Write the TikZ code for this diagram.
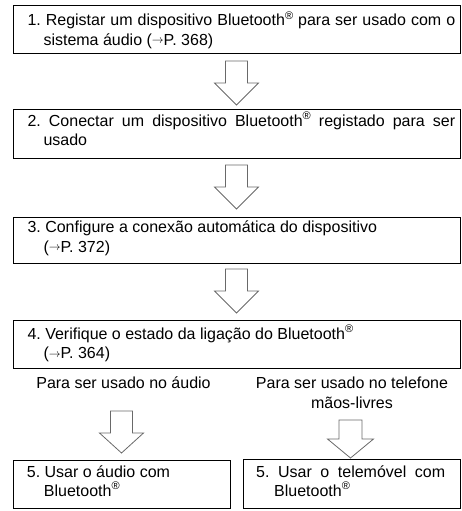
\documentclass[tikz,border=0pt]{standalone}
\usepackage{fontspec}
\usepackage{graphicx}
\setmainfont{Liberation Sans}
\newcommand{\regmark}{\raisebox{0.42em}{\fontsize{11}{11}\selectfont ®}}
\newcommand{\refarrow}{\raisebox{1.6pt}{\scalebox{0.68}{$\rightarrow$}}}
\definecolor{arrowgray}{RGB}{105,105,105}
\begin{document}
\begin{tikzpicture}[x=1pt,y=-1pt,
  box/.style={draw=black, line width=1pt},
  txt/.style={anchor=base west, inner sep=0pt, text width=#1, align=justify,
    font=\fontsize{16}{19.4}\selectfont\frenchspacing},
  lbl/.style={anchor=base, inner sep=0pt, align=center,
    font=\fontsize{16}{20}\selectfont},
  hollow/.style={draw=arrowgray, line width=0.8pt, line join=miter}]
\useasboundingbox (0,0) rectangle (461,511);

% boxes
\draw[box] (13,5.5) rectangle (460,54);
\draw[box] (13,109.5) rectangle (460,158);
\draw[box] (13,217) rectangle (460,263);
\draw[box] (13,320) rectangle (460,368);
\draw[box] (13,460) rectangle (230,508);
\draw[box] (243,459.5) rectangle (460,508);

% texts
\node[txt=427.7pt] (t1) at (27.3,26) {\hangindent=16pt\hangafter=1
  1. Registar um dispositivo Bluetooth\regmark{} para ser usado com o\linebreak
  sistema áudio (\refarrow P. 368)\par};
\node[txt=427.7pt] (t2) at (27.3,126.3) {\hangindent=16pt\hangafter=1
  2. Conectar um dispositivo Bluetooth\regmark{} registado para ser\linebreak
  usado\par};
\node[txt=427.7pt] (t3) at (27.3,232.7) {\hangindent=16pt\hangafter=1
  3. Configure a conexão automática do dispositivo\\
  (\refarrow P. 372)\par};
\node[txt=427.7pt] (t4) at (27.3,339.5) {\hangindent=16pt\hangafter=1
  4. Verifique o estado da ligação do Bluetooth\regmark\\
  (\refarrow P. 364)\par};
\node[txt=200pt] (t5a) at (26.7,477) {\hangindent=17pt\hangafter=1
  5. Usar o áudio com\\
  Bluetooth\regmark\par};
\node[txt=189pt] (t5b) at (256,477) {\hangindent=18pt\hangafter=1
  5. Usar o telemóvel com\linebreak
  Bluetooth\regmark\par};

% labels
\node[lbl] (l1) at (123.5,388) {Para ser usado no áudio};
\node[lbl] (l2) at (352,408) {Para ser usado no telefone\\mãos-livres};

% hollow arrows
\coordinate (a1) at (236.5,61);
\coordinate (a2) at (236.5,165);
\coordinate (a3) at (236.5,269);
\coordinate (a4) at (121.5,411);
\coordinate (a5) at (350.5,420);
\foreach \a in {a1,a2,a3}{
  \draw[hollow] (\a) ++(-11,0) -- ++(0,22) -- ++(-11,0) -- ++(22,22)
    -- ++(22,-22) -- ++(-11,0) -- ++(0,-22) -- cycle;
}
\draw[hollow] (a4) ++(-11,0) -- ++(0,22) -- ++(-11,0) -- ++(22,20)
    -- ++(22,-20) -- ++(-11,0) -- ++(0,-22) -- cycle;
\draw[hollow] (a5) ++(-11.5,0) -- ++(0,19) -- ++(-11.5,0) -- ++(23,19)
    -- ++(23,-19) -- ++(-11.5,0) -- ++(0,-19) -- cycle;
\end{tikzpicture}
\end{document}
